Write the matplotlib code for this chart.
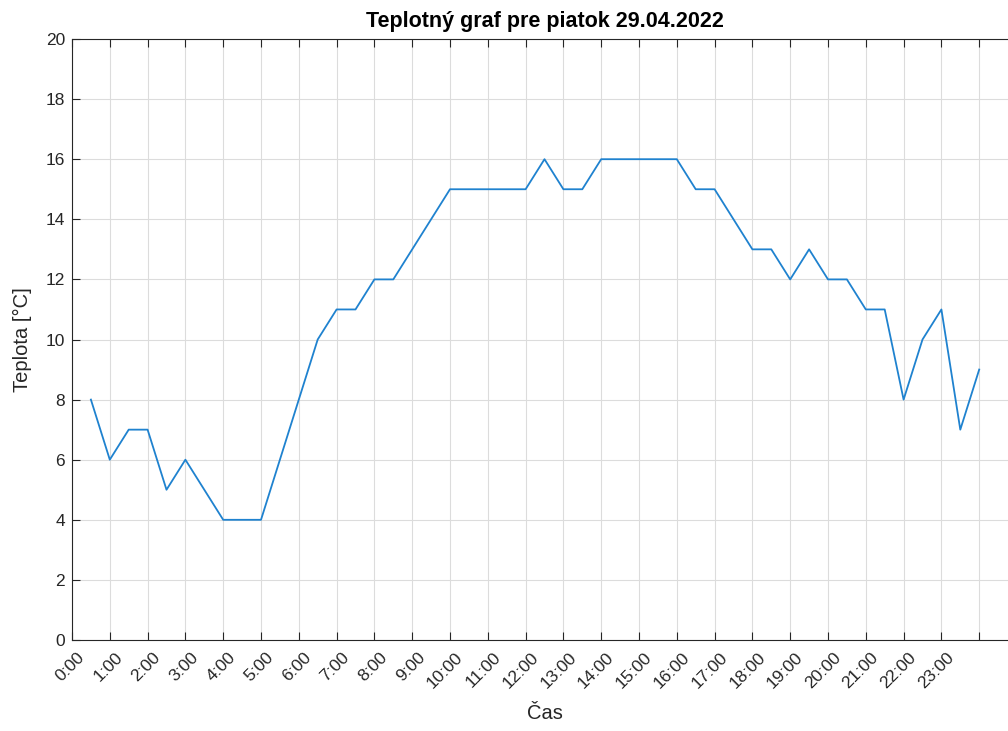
import matplotlib.pyplot as plt
import matplotlib.transforms as mtransforms
import numpy as np

# half-hourly readings, 0:30 .. 24:00
hours = np.arange(1, 49) / 2
teplota = [8, 6, 7, 7, 5, 6, 5, 4, 4, 4,
           6, 8, 10, 11, 11, 12, 12, 13, 14, 15,
           15, 15, 15, 15, 16, 15, 15, 16, 16, 16,
           16, 16, 15, 15, 14, 13, 13, 12, 13, 12,
           12, 11, 11, 8, 10, 11, 7, 9]
tick_hours = np.arange(0, 26)
tick_labels = [f'{h}:00' for h in range(24)] + ['', '']

plt.rcParams['font.family'] = ['Liberation Sans', 'DejaVu Sans']
dark = '#262626'

fig = plt.figure(figsize=(10.08, 7.31), dpi=100)
ax = fig.add_axes([72/1008, 91/731, (1017-72)/1008, 601/731])

ax.plot(hours, teplota, color='#1f82cf', lw=1.3)

ax.set_xlim(0, 25)
ax.set_ylim(0, 20)
ax.set_xticks(tick_hours)
ax.set_xticklabels([])
# rotated hour labels, anchored a little right of and below each tick
shift = mtransforms.ScaledTranslation(5/100, -10/100, fig.dpi_scale_trans)
for h, lab in zip(tick_hours, tick_labels):
    ax.text(h, 0, lab, transform=ax.get_xaxis_transform() + shift,
            rotation=45, ha='right', va='top', rotation_mode='anchor',
            fontsize=12.5, color=dark)
ax.set_yticks(np.arange(0, 21, 2))
ax.grid(True, color='#dcdcdc', lw=0.8)
ax.set_axisbelow(True)
ax.tick_params(direction='in', length=6, width=0.8, colors=dark, labelsize=12.5,
               top=True, right=True, pad=5)
for s in ax.spines.values():
    s.set_color(dark)
    s.set_linewidth(0.8)

ax.set_title('Teplotný graf pre piatok 29.04.2022', fontsize=15.5, fontweight='bold',
             color='black', pad=9)
ax.set_xlabel('Čas', fontsize=14.5, color=dark)
ax.xaxis.set_label_coords(0.5, -0.106)
ax.set_ylabel('Teplota [°C]', fontsize=14.5, color=dark, labelpad=10)

fig.savefig('out.png', dpi=100)
